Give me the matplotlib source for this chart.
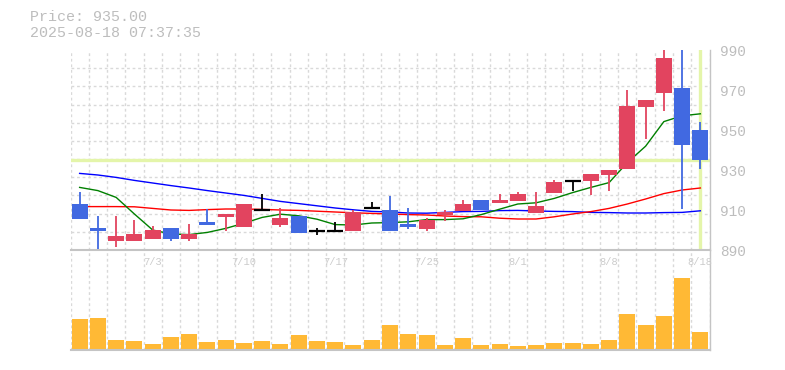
import numpy as np
import matplotlib.pyplot as plt

# daily candles, 6/27 .. 8/18
dates = ['6/27', '6/30', '7/1', '7/2', '7/3', '7/4', '7/7', '7/8', '7/9', '7/10',
         '7/11', '7/14', '7/15', '7/16', '7/17', '7/18', '7/22', '7/23', '7/24', '7/25',
         '7/28', '7/29', '7/30', '7/31', '8/1', '8/4', '8/5', '8/6', '8/7', '8/8',
         '8/12', '8/13', '8/14', '8/15', '8/18']
opens = [913, 901, 894.5, 894.5, 895.5, 901, 895.5, 904, 906.5, 901.5,
         910, 902.5, 907, 899.5, 899.5, 899.5, 911, 910, 903, 900.5,
         907.5, 909.5, 915, 913.5, 914.5, 908.5, 918.5, 924.5, 924.5, 927.5,
         930.5, 961.5, 968.5, 971, 950]
highs = [919, 907, 907, 905, 902, 901, 903, 910.5, 908, 913,
         918, 911, 907, 901, 904, 910, 914, 917, 911, 906,
         910, 915, 915, 918, 919, 919, 925, 924.5, 928, 930,
         970, 965, 995, 995, 954]
lows = [905.5, 890.5, 891.5, 894.5, 895.5, 894.5, 894.5, 902.5, 899.5, 901.5,
        910, 901.5, 898.5, 897.5, 899.5, 899.5, 911, 899.5, 900.5, 899.5,
        904.5, 909.5, 910, 913.5, 914.5, 908.5, 918.5, 919.5, 917.5, 919.5,
        930.5, 945.5, 959.5, 910.5, 930.5]
closes = [905.5, 899.5, 897, 898, 900, 895.5, 898, 902.5, 908, 913,
          910, 906, 898.5, 899.5, 899.5, 909, 911, 899.5, 901.5, 905,
          909, 913, 910, 915, 918, 912, 924, 924.5, 928, 930,
          962, 965, 986, 942.5, 935]

# moving averages
ma_short = [921.3, 919.7, 916.3, 908.0, 900.0, 898.0, 897.7, 898.8, 900.8, 903.4,
            906.3, 907.9, 907.1, 905.4, 902.7, 902.5, 903.5, 903.7, 904.1, 905.2,
            905.2, 905.6, 907.7, 910.4, 913.0, 913.6, 915.8, 918.7, 921.3, 923.7,
            933.7, 941.9, 954.2, 957.1, 958.1]
ma_mid = [911.7, 911.7, 911.7, 911.6, 910.8, 910.0, 909.8, 910.2, 910.5, 910.5,
          910.3, 910.0, 909.8, 909.4, 909.0, 908.6, 908.3, 908.0, 907.7, 907.5,
          907.0, 906.7, 906.6, 905.9, 905.5, 905.5, 906.6, 908.0, 909.2, 910.8,
          913.0, 915.5, 918.2, 920.0, 921.0]
ma_long = [928.3, 927.5, 926.3, 924.8, 923.5, 922.2, 921.0, 919.7, 918.5, 917.3,
           915.8, 914.3, 913.2, 912.1, 911.0, 910.1, 909.3, 909.0, 908.5, 908.4,
           908.8, 909.2, 909.3, 909.7, 909.8, 909.5, 909.3, 909.2, 908.8, 908.7,
           908.5, 908.5, 908.7, 908.8, 909.6]

volume = [30, 31, 9, 8, 5, 12, 15, 7, 9, 6,
          8, 5, 14, 8, 7, 4, 9, 24, 15, 14,
          4, 11, 4, 5, 3, 4, 6, 6, 5, 9,
          35, 24, 33, 71, 17]

price_now = 935.00
stamp = '2025-08-18 07:37:35'

UP = '#e2445f'
DOWN = '#4169e1'
MARK = '#e4f5aa'
GRID = '#d9d9d9'
TXT = '#bdbdbd'
FONT = 'Liberation Mono'

W, H = 785, 370
fig = plt.figure(figsize=(W / 100, H / 100), dpi=100)
ax = fig.add_axes([70.5 / W, 120 / H, 639 / W, 200 / H])
axv = fig.add_axes([70.5 / W, 20 / H, 639 / W, 100 / H])
ax.set_zorder(2)

n = len(dates)
x = np.arange(n)
o = np.array(opens)
c = np.array(closes)
bw = 0.875

for a in (ax, axv):
    a.set_xlim(-0.5, n - 0.5)
    a.set_xticks(np.arange(-0.5, n, 1), minor=True)
    a.grid(which='minor', axis='x', color=GRID, lw=1, ls=(0, (2, 2)))
    for s in ('top', 'left'):
        a.spines[s].set_visible(False)
    a.spines['bottom'].set_color('#c4c4c4')
    a.spines['bottom'].set_linewidth(1.5)
    a.spines['right'].set_color('#c4c4c4')
    a.spines['right'].set_linewidth(1)
    a.tick_params(which='both', length=0)
    a.set_axisbelow(True)

# price panel
ax.set_ylim(890, 990)
ax.set_yticks(np.linspace(890, 990, 12), minor=True)
ax.grid(which='minor', axis='y', color=GRID, lw=1, ls=(0, (2, 2)))
ax.yaxis.tick_right()
ax.set_yticks([890, 910, 930, 950, 970, 990])
ax.tick_params(axis='y', pad=7.5, labelcolor=TXT, labelsize=10.4)
for t in ax.get_yticklabels():
    t.set_family(FONT)
ax.set_xticks(x[4::5])
ax.set_xticklabels(dates[4::5])
ax.tick_params(axis='x', pad=5, labelcolor='#cccccc', labelsize=7.5)
for t in ax.get_xticklabels():
    t.set_family(FONT)

ax.axhline(price_now, color=MARK, lw=2.4, zorder=1.5)
ax.axvline(x[-1], color=MARK, lw=2.4, zorder=1.5)

ax.plot(x, ma_long, color='#0000ff', lw=1.0, zorder=2)
ax.plot(x, ma_mid, color='#ff0000', lw=1.0, zorder=2)
ax.plot(x, ma_short, color='#008000', lw=1.0, zorder=2)

up = c > o
down = c < o
flat = c == o
col = np.where(up, UP, np.where(down, DOWN, 'black'))
ax.vlines(x, lows, highs, colors=col, lw=1.3, zorder=3)
ax.bar(x[~flat], np.abs(c - o)[~flat], bottom=np.minimum(o, c)[~flat],
       width=bw, color=col[~flat], zorder=4)
ax.hlines(c[flat], x[flat] - bw / 2, x[flat] + bw / 2, colors='black', lw=1.6, zorder=4)

# volume panel
axv.bar(x, volume, width=bw, color='#ffb935', zorder=2)
axv.set_ylim(-1.5, 98.5)
axv.set_yticks([])
axv.set_xticks([])

fig.text(30 / W, 1 - 17 / H, f'Price: {price_now:.2f}', color=TXT,
         fontsize=10.8, family=FONT, va='center')
fig.text(30 / W, 1 - 33 / H, stamp, color=TXT, fontsize=10.8, family=FONT, va='center')

fig.savefig('out.png', dpi=100)
